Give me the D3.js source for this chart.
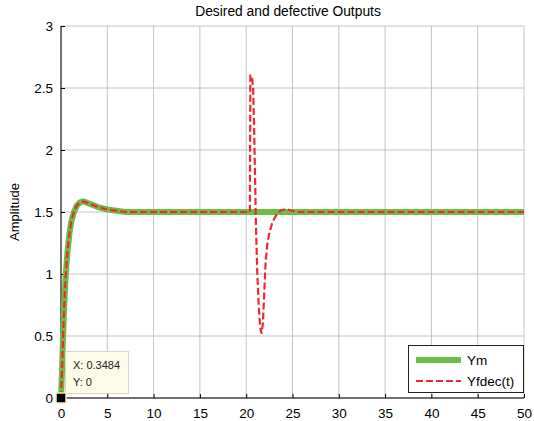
<!DOCTYPE html>
<html>
<head>
<meta charset="utf-8">
<script src="https://cdn.jsdelivr.net/npm/d3@7"></script>
<style>
  body { margin: 0; background: #fff; }
  text { font-family: "Liberation Sans", Arial, sans-serif; }
</style>
</head>
<body>
<div id="chart"></div>
<script>
// chart data
var ym_t = [0, 0.1, 0.2, 0.35, 0.5, 0.7, 0.9, 1.1, 1.4, 1.7, 2.0, 2.4, 2.8, 3.3, 4, 5, 6, 7, 50];
var ym_y = [0, 0.2, 0.45, 0.75, 0.98, 1.18, 1.32, 1.42, 1.5, 1.55, 1.575, 1.585, 1.575, 1.56, 1.54, 1.52, 1.51, 1.5, 1.5];

var fault_t = [20.4, 20.45, 20.6, 20.75, 20.85, 20.95, 21.05, 21.2, 21.35, 21.5, 21.65, 21.8, 21.95, 22.1, 22.3, 22.5, 22.8, 23.2, 23.7, 24.3, 24.9, 25.5, 50];
var fault_y = [1.5, 2.6, 2.6, 2.5, 2.2, 1.8, 1.4, 1.0, 0.75, 0.58, 0.52, 0.6, 0.85, 1.1, 1.25, 1.33, 1.41, 1.47, 1.51, 1.525, 1.51, 1.5, 1.5];

var x_ticks = [0, 5, 10, 15, 20, 25, 30, 35, 40, 45, 50];
var y_ticks = [0, 0.5, 1, 1.5, 2, 2.5, 3];
var series_names = ["Ym", "Yfdec(t)"];
var cursor_x = 0.3484;
var cursor_y = 0;

// settings
var width = 534;
var height = 421;
var plot_left = 61, plot_right = 524, plot_top = 26, plot_bottom = 398;
var green = "#6cbd45";
var red = "#ee2a2f";
var grid_color = "#c4c4c4";

var svg = d3.select("#chart").append("svg")
    .attr("width", width)
    .attr("height", height);

var x = d3.scaleLinear().domain([0, 50]).range([plot_left, plot_right]);
var y = d3.scaleLinear().domain([0, 3]).range([plot_bottom, plot_top]);

// grid
svg.append("g").selectAll("line")
    .data(x_ticks).enter().append("line")
    .attr("x1", function(d) { return x(d); })
    .attr("x2", function(d) { return x(d); })
    .attr("y1", plot_top).attr("y2", plot_bottom)
    .attr("stroke", grid_color).attr("stroke-width", 1);
svg.append("g").selectAll("line")
    .data(y_ticks).enter().append("line")
    .attr("y1", function(d) { return y(d); })
    .attr("y2", function(d) { return y(d); })
    .attr("x1", plot_left).attr("x2", plot_right)
    .attr("stroke", grid_color).attr("stroke-width", 1);

// axes
var xAxis = svg.append("g")
    .attr("transform", "translate(0," + plot_bottom + ")")
    .call(d3.axisBottom(x).tickValues(x_ticks).tickSize(-4).tickPadding(8).tickFormat(d3.format("d")));
var yAxis = svg.append("g")
    .attr("transform", "translate(" + plot_left + ",0)")
    .call(d3.axisLeft(y).tickValues(y_ticks).tickSize(-4).tickPadding(8).tickFormat(function(d) { return d; }));
[xAxis, yAxis].forEach(function(a) {
    a.select(".domain").attr("stroke", "#000");
    a.selectAll("text").style("font-size", "13.5px").attr("fill", "#000")
        .style("font-family", "'Liberation Sans', Arial, sans-serif");
});
xAxis.selectAll("text").attr("dy", "0.9em");
xAxis.select(".domain").attr("d", "M" + plot_left + ",0H" + plot_right);
yAxis.select(".domain").attr("d", "M0," + plot_bottom + "V" + plot_top);

// lines
var line = d3.line()
    .x(function(d) { return x(d[0]); })
    .y(function(d) { return y(d[1]); });

var ym = ym_t.map(function(t, i) { return [t, ym_y[i]]; });
var yf = ym.filter(function(d) { return d[0] < fault_t[0]; })
    .concat(fault_t.map(function(t, i) { return [t, fault_y[i]]; }));

svg.append("path").datum(ym)
    .attr("d", line).attr("fill", "none")
    .attr("stroke", green).attr("stroke-width", 6)
    .attr("stroke-linejoin", "round");
svg.append("path").datum(yf)
    .attr("d", line).attr("fill", "none")
    .attr("stroke", red).attr("stroke-width", 2.2)
    .attr("stroke-dasharray", "7,3");

// title and label
svg.append("text")
    .attr("x", 288).attr("y", 16)
    .attr("text-anchor", "middle")
    .style("font-size", "13.8px")
    .text("Desired and defective Outputs");
svg.append("text")
    .attr("transform", "translate(19," + y(1.5) + ") rotate(-90)")
    .attr("text-anchor", "middle")
    .style("font-size", "13px")
    .text("Amplitude");

// legend
var lg = svg.append("g");
lg.append("rect")
    .attr("x", 408.5).attr("y", 345.5).attr("width", 115).attr("height", 47)
    .attr("fill", "#fff").attr("stroke", "#222").attr("stroke-width", 1);
lg.append("line")
    .attr("x1", 416).attr("x2", 461).attr("y1", 360).attr("y2", 360)
    .attr("stroke", green).attr("stroke-width", 6);
lg.append("line")
    .attr("x1", 416).attr("x2", 461).attr("y1", 381).attr("y2", 381)
    .attr("stroke", red).attr("stroke-width", 2.2).attr("stroke-dasharray", "7,3");
lg.selectAll("text").data(series_names).enter().append("text")
    .attr("x", 467)
    .attr("y", function(d, i) { return 365 + i * 21; })
    .style("font-size", "13.5px")
    .text(function(d) { return d; });

// data cursor
var tip = svg.append("g");
tip.append("rect")
    .attr("x", 65.5).attr("y", 351.5).attr("width", 63).attr("height", 42)
    .attr("fill", "#fbfbe8").attr("stroke", "#d8d8c0");
tip.append("text").attr("x", 73).attr("y", 369)
    .style("font-size", "11px").attr("fill", "#222")
    .text("X: " + cursor_x);
tip.append("text").attr("x", 73).attr("y", 386)
    .style("font-size", "11px").attr("fill", "#222")
    .text("Y: " + cursor_y);
tip.append("rect")
    .attr("x", x(0) - 5).attr("y", y(cursor_y) - 5).attr("width", 10).attr("height", 10)
    .attr("fill", "#000").attr("stroke", "#f4f0c8").attr("stroke-width", 1.5);
</script>
</body>
</html>
